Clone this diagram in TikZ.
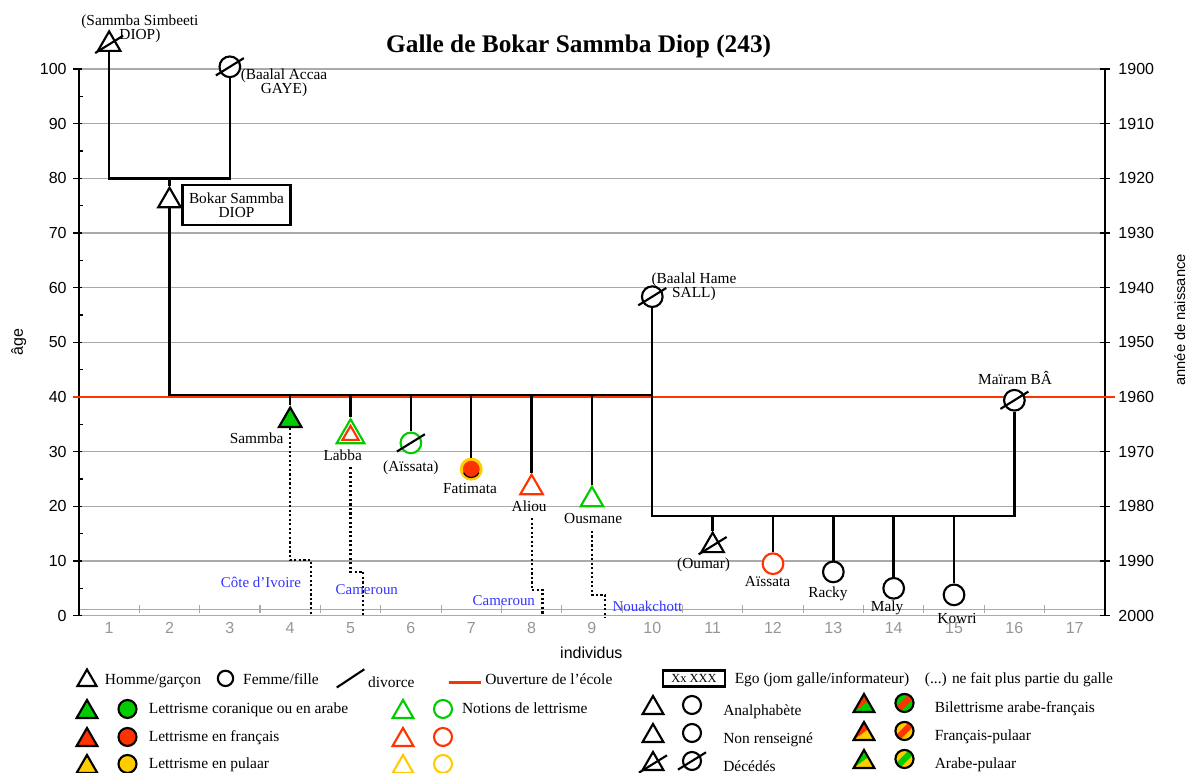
\documentclass[tikz,border=0pt]{standalone}
\usepackage{fontspec}
\setmainfont{Liberation Serif}
\setsansfont{Liberation Sans}
\usetikzlibrary{shapes.geometric}
\definecolor{lgreen}{RGB}{0,204,0}
\definecolor{lred}{RGB}{255,51,0}
\definecolor{lyellow}{RGB}{255,204,0}
\definecolor{lblue}{RGB}{51,51,255}
\definecolor{gridgrey}{RGB}{170,170,170}
\definecolor{ticgrey}{RGB}{150,150,150}
\tikzset{
 man/.style={draw,regular polygon,regular polygon sides=3,minimum size=19.5pt,
             inner sep=0pt,line width=1.6pt,fill=white},
 woman/.style={draw,circle,minimum size=15.5pt,inner sep=0pt,line width=1.6pt,fill=white},
 lman/.style={man,minimum size=18pt},
 lwoman/.style={woman,minimum size=13.5pt},
 link/.style={line width=1.8pt},
 migr/.style={line width=1.6pt,dash pattern=on 1.6pt off 1.8pt},
 slash/.style={line width=1.6pt},
 personlab/.style={font=\fontsize{11.5}{10.5}\selectfont,align=center,inner sep=0pt},
 placelab/.style={font=\fontsize{11.2}{13}\selectfont,text=lblue,inner sep=0pt},
 axnum/.style={font=\sffamily\fontsize{12}{14}\selectfont,inner sep=0pt},
 legtxt/.style={font=\fontsize{11.6}{13}\selectfont,inner sep=0pt,anchor=base west},
 pics/twotri/.style 2 args={code={
   \begin{scope}
    \clip (90:9pt) -- (210:9pt) -- (330:9pt) -- cycle;
    \fill[#2] (-10pt,-10pt) rectangle (10pt,10pt);
    \fill[#1] (210:9pt) -- (3.1pt,3.6pt) -- (3.1pt,10pt) -- (-10pt,10pt) -- (-10pt,-4.5pt) -- cycle;
   \end{scope}
   \draw[line width=1.6pt] (90:9pt) -- (210:9pt) -- (330:9pt) -- cycle;
 }},
 pics/twocirc/.style 2 args={code={
   \begin{scope}
    \clip (0,0) circle[radius=6.8pt];
    \fill[#2] (-7pt,-7pt) rectangle (7pt,7pt);
    \fill[#1,rotate=45] (-9pt,-2.3pt) rectangle (9pt,2.3pt);
   \end{scope}
   \draw[line width=1.6pt] (0,0) circle[radius=6.8pt];
 }}
}
\begin{document}
\begin{tikzpicture}[x=45.2625pt,y=4.1pt]
\useasboundingbox (-0.8086,-28.77) rectangle (18.910,112.62);
% grid and axes
\foreach \ag in {0,10,...,100}
  \draw[gridgrey,line width=0.8pt] (0.5,\ag) -- (17.5,\ag);
\draw[gridgrey,line width=0.8pt] (0.5,1.17) -- (17.5,1.17);
\foreach \i in {1.5,2.5,...,16.5}
  \draw[gridgrey,line width=0.8pt] (\i,0.45) -- (\i,1.9);
\foreach \i in {1,...,17}
  \node[axnum,text=ticgrey] (ind\i) at (\i,-2.3) {\i};
\draw[line width=1.1pt] (0.5,0) -- (0.5,100);
\draw[line width=1.1pt] (17.5,0) -- (17.5,100);
\foreach \ag in {0,10,...,100}{
  \pgfmathtruncatemacro{\yr}{2000-\ag}
  \draw[line width=1.1pt] (0.5,\ag) ++(-4.5pt,0) -- ++(7pt,0);
  \draw[line width=1.1pt] (17.5,\ag) ++(-3.5pt,0) -- ++(7pt,0);
  \node[axnum,anchor=east] (age\ag) at (0.30,\ag) {\ag};
  \node[axnum,anchor=west] (yr\ag) at (17.72,\ag) {\yr};
}
\foreach \ag in {5,15,...,95}
  \draw[line width=1.1pt] (0.5,\ag) -- ++(3pt,0);
\node[axnum,rotate=90] (agetitle) at (-0.50,50) {âge};
\node[axnum,rotate=90,font=\sffamily\fontsize{11}{13}\selectfont] (yeartitle) at (18.74,54.1) {année de naissance};
\node[axnum] (indtitle) at (8.99,-6.8) {individus};
\node[font=\bfseries\fontsize{19}{21}\selectfont,inner sep=0pt] (title) at (8.78,104.2) {Galle de Bokar Sammba Diop (243)};

% opening of the school
\draw[lred,line width=1.9pt] (0.40,40) -- (17.67,40);

% persons
\node[man] (simbeeti) at (1,104.5) {};
\node[woman] (accaa) at (3,100.4) {};
\node[man] (bokar) at (2,75.9) {};
\node[woman] (hame) at (10,58.35) {};
\node[woman] (mairam) at (16,39.4) {};
\node[man,fill=lgreen] (sammba) at (4,35.7) {};
\node[man,draw=lgreen,minimum size=24pt] (labba) at (5,33.0) {};
\node[man,draw=lred,minimum size=14pt] (labbain) at (labba.center) {};
\node[woman,draw=lgreen] (aissata) at (6,31.6) {};
\node[woman,fill=lred,draw=lyellow,line width=2.2pt,minimum size=15pt] (fatimata) at (7,26.8) {};
\node[man,draw=lred] (aliou) at (8,23.4) {};
\node[man,draw=lgreen] (ousmane) at (9,21.2) {};
\node[man] (oumar) at (11,12.8) {};
\node[woman,draw=lred] (aissatab) at (12,9.5) {};
\node[woman] (racky) at (13,8.0) {};
\node[woman] (maly) at (14,5.0) {};
\node[woman] (kowri) at (15,3.8) {};

% names
\node[personlab] (simbeetilab) at (1.51,107.3) {(Sammba Simbeeti\\DIOP)};
\node[personlab] (accaalab) at (3.897,97.4) {(Baalal Accaa\\GAYE)};
\node[personlab,draw,line width=1.6pt,minimum width=81pt,minimum height=30pt] (bokarbox) at (3.11,75.1) {Bokar Sammba\\DIOP};
\node[personlab] (hamelab) at (10.69,60.2) {(Baalal Hame\\SALL)};
\node[personlab] (mairamlab) at (16.01,43.5) {Maïram BÂ};
\node[personlab] (sammbalab) at (3.445,32.5) {Sammba};
\node[personlab] (labbalab) at (4.87,29.4) {Labba};
\node[personlab] (aissatalab) at (6.0,27.1) {(Aïssata)};
\node[personlab] (fatimatalab) at (6.98,23.3) {Fatimata};
\node[personlab] (aliolab) at (7.96,20.1) {Aliou};
\node[personlab] (ousmanelab) at (9.02,17.7) {Ousmane};
\node[personlab] (oumarlab) at (10.85,9.3) {(Oumar)};
\node[personlab] (aissatablab) at (11.91,6.2) {Aïssata};
\node[personlab] (rackylab) at (12.91,3.9) {Racky};
\node[personlab] (malylab) at (13.89,1.35) {Maly};
\node[personlab] (kowrilab) at (15.05,-0.6) {Kowri};

% unions and children
\coordinate (u1) at (2,80);
\coordinate (u2) at (6,40.4);
\coordinate (u3) at (13,18.26);
\draw[link] (simbeeti.-90) -- (simbeeti.-90 |- u1) -| (accaa.-90);
\draw[link] (u1) -- (bokar.90);
\draw[link] (bokar.-90) -- (bokar.-90 |- u2) -| (hame.-90);
\draw[link] (hame.-90) -- (hame.-90 |- u3) -| (mairam.-90);
\foreach \k in {sammba,labba,aissata,fatimata,aliou,ousmane}
  \draw[link] (\k.90) -- (\k.90 |- u2);
\foreach \k in {oumar,aissatab,racky,maly,kowri}
  \draw[link] (\k.90) -- (\k.90 |- u3);
\foreach \k in {simbeeti,accaa,hame,mairam,aissata,oumar}
  \draw[slash] (\k.center) ++(-10.5pt,-6.5pt) -- ++(21pt,13pt);
\draw[line width=0.9pt] (fatimata.center) ++(205:6.3pt) arc[start angle=205,end angle=335,radius=6.3pt];

% migrations
\coordinate (civ) at (4.34,0);
\coordinate (cam1) at (5.21,0);
\coordinate (cam2) at (8.18,0);
\coordinate (nkc) at (9.22,-0.4);
\draw[migr] (sammba.-90) -- (sammba.-90 |- 0,10.2) -| (civ);
\draw[migr] (labba |- labbalab.south) ++(0,-1.2) -- (labba |- 0,8.05) -| (cam1);
\draw[migr] (aliou |- aliolab.south) ++(0,-1.2) -- (aliou |- 0,4.7) -| (cam2);
\draw[migr] (ousmane |- ousmanelab.south) ++(0,-1.2) -- (ousmane |- 0,3.8) -| (nkc);
\node[placelab] (civlab) at (3.516,6.16) {Côte d’Ivoire};
\node[placelab] (cam1lab) at (5.27,4.7) {Cameroun};
\node[placelab] (cam2lab) at (7.54,2.74) {Cameroun};
\node[placelab] (nkclab) at (9.92,1.65) {Nouakchott};

% legend
\begin{scope}[shift={(-0.8086,112.62)},x=0.75pt,y=-0.75pt]
\node[lman,minimum size=16.5pt] (lgman) at (87,680.5) {};
\node[legtxt] (lgmantxt) at (104.6,684.5) {Homme/garçon};
\node[lwoman,minimum size=11.5pt] (lgwoman) at (225.5,678.4) {};
\node[legtxt] (lgwomantxt) at (242.9,684.5) {Femme/fille};
\draw[slash] (336.8,687.5) -- (364.3,669.3);
\node[legtxt] (lgdivtxt) at (367.9,687.5) {divorce};
\draw[lred,line width=1.9pt] (448.6,682.5) -- (481.4,682.5);
\node[legtxt] (lgschooltxt) at (485,684.5) {Ouverture de l’école};
\node[draw,line width=1.6pt,minimum width=47pt,minimum height=12pt,inner sep=0pt,
      font=\fontsize{9.3}{10}\selectfont] (lgego) at (694,678.5) {Xx XXX};
\node[legtxt] (lgegotxt) at (734.5,684) {Ego (jom galle/informateur)};
\node[legtxt] (lgouttxt) at (924.7,684) {(...) ne fait plus partie du galle};
\foreach \ca/\yy/\t [count=\r] in {lgreen/709/{Lettrisme coranique ou en arabe},
    lred/737/{Lettrisme en français},lyellow/764/{Lettrisme en pulaar}}{
  \node[lman,fill=\ca] (lgfm\r) at (87,\yy+3) {};
  \node[lwoman,fill=\ca] (lgff\r) at (127.5,\yy) {};
  \node[legtxt] (lgft\r) at (148.6,\yy+5) {\t};
  \node[lman,draw=\ca] (lgnm\r) at (403,\yy+3) {};
  \node[lwoman,draw=\ca] (lgnf\r) at (443,\yy) {};
}
\node[legtxt] (lgnotxt) at (461.8,714) {Notions de lettrisme};
\foreach \yy/\t [count=\r] in {705/Analphabète,733/{Non renseigné},761/Décédés}{
  \node[lman] (lgam\r) at (653,\yy+3) {};
  \node[lwoman] (lgaf\r) at (692,\yy) {};
  \node[legtxt] (lgat\r) at (723,\yy+10.5) {\t};
}
\draw[slash] (lgam3.center) ++(-10.5pt,-6.5pt) -- ++(21pt,13pt);
\draw[slash] (lgaf3.center) ++(-10.5pt,-6.5pt) -- ++(21pt,13pt);
\foreach \ca/\cb/\yy/\t [count=\r] in {lred/lgreen/703/{Bilettrisme arabe-français},
    lred/lyellow/731/Français-pulaar,lgreen/lyellow/759/Arabe-pulaar}{
  \pic at (864,\yy+3) {twotri={\ca}{\cb}};
  \pic at (904.5,\yy) {twocirc={\ca}{\cb}};
  \node[legtxt] (lgbt\r) at (934.5,\yy+9.5) {\t};
}
\end{scope}
\end{tikzpicture}
\end{document}
